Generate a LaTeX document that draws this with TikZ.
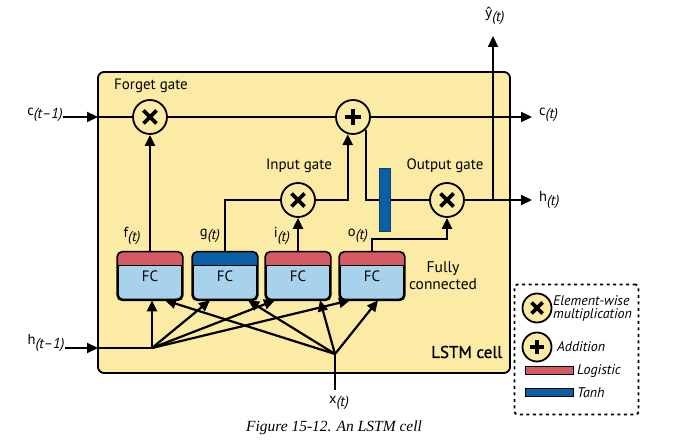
\documentclass[tikz,border=0pt]{standalone}
\usepackage{fontspec}
\setmainfont{PT Sans}
\newfontfamily\capfont{Liberation Serif}
\newfontfamily\yfont{Noto Sans}
\newfontfamily\semifont{PT Sans}[FakeBold=1]
\usetikzlibrary{arrows.meta,calc}
\definecolor{cellyellow}{HTML}{FBEBA5}
\definecolor{logred}{HTML}{D65A64}
\definecolor{tanhblue}{HTML}{0A5FA5}
\definecolor{fcblue}{HTML}{A8D2EB}
\newcommand\lowsub[1]{\raisebox{-0.45ex}{#1}}
\newcommand\drawmul[2]{\draw[line width=3.6pt] ($(#1.center)+(-#2,-#2)$) -- ($(#1.center)+(#2,#2)$) ($(#1.center)+(-#2,#2)$) -- ($(#1.center)+(#2,-#2)$);}
\newcommand\drawadd[2]{\draw[line width=3.6pt] ($(#1.center)+(-#2,0)$) -- ($(#1.center)+(#2,0)$) ($(#1.center)+(0,-#2)$) -- ($(#1.center)+(0,#2)$);}
\begin{document}
\begin{tikzpicture}[x=1pt,y=-1pt,
  lw/.style={line width=2.2pt},
  arr/.style={line width=2.2pt,-{Triangle[length=11pt,width=10pt]}},
  gate/.style={circle,draw,line width=1.8pt,fill=cellyellow,minimum size=34pt,inner sep=0pt},
  lgate/.style={gate,minimum size=29pt},
  txt/.style={font=\fontsize{15}{17}\selectfont,inner sep=0pt},
  vtxt/.style={font=\fontsize{14.5}{17}\selectfont,inner sep=0pt},
  ltxt/.style={font=\fontsize{14}{14}\selectfont\itshape,inner sep=0pt,align=left},
  fc/.style={draw,line width=1.6pt,rounded corners=5pt,fill=fcblue,minimum width=64pt,minimum height=47pt,inner sep=0pt,
    font=\fontsize{15}{17}\selectfont}
]
\useasboundingbox (0,0) rectangle (683,443);
% cell
\node[draw,line width=1.8pt,rounded corners=6pt,fill=cellyellow,minimum width=412pt,minimum height=301pt,inner sep=0pt] (cell) at (304,222.5) {};
\node[font=\semifont\fontsize{17}{19}\selectfont,inner sep=0pt,anchor=west] (lstm) at (431,352) {LSTM cell};

% gates
\node[gate] (fg) at (150,117) {};
\node[gate] (add) at (353,117) {};
\node[gate] (ig) at (298,200) {};
\node[gate] (og) at (447,200) {};
\drawmul{fg}{6.5}
\drawadd{add}{8}
\drawmul{ig}{6.5}
\drawmul{og}{6.5}
\node[txt] (fgl) at (151,86) {Forget gate};
\node[txt] (igl) at (299,166) {Input gate};
\node[txt] (ogl) at (445,166) {Output gate};

% FC boxes
\foreach \n/\xx/\col in {f/150/logred,g/225/tanhblue,i/298/logred,o/372/logred}{
  \node[fc] (\n) at (\xx,276) {\raisebox{-7pt}{FC}};
  \begin{scope}
    \clip[rounded corners=5pt] (\n.north west) rectangle (\n.south east);
    \fill[\col] (\n.north west) rectangle ($(\n.north east)+(0,14)$);
  \end{scope}
  \draw[line width=1.6pt,rounded corners=5pt] (\n.north west) rectangle (\n.south east);
  \draw[line width=1.4pt] ($(\n.north west)+(0,14)$) -- ($(\n.north east)+(0,14)$);
}
\node[vtxt] (fl) at (132,236) {f\lowsub{\textit{(t)}}};
\node[vtxt] (gl) at (210,236) {g\lowsub{\textit{(t)}}};
\node[vtxt] (il) at (282,236) {i\lowsub{\textit{(t)}}};
\node[vtxt] (ol) at (358,236) {o\lowsub{\textit{(t)}}};
\node[font=\fontsize{15.5}{17}\selectfont,inner sep=0pt,align=center] (fcl) at (443,276) {Fully\\connected};

% cell state line
\node[vtxt] (cin) at (45,115) {c\lowsub{\textit{(t–1)}}};
\coordinate (cinb) at (98,117);
\coordinate (coutp) at (532,117);
\node[vtxt,anchor=west] (cout) at (539,115) {c\lowsub{\textit{(t)}}};
\draw[arr] (cin.east |- cinb) -- (cinb);
\draw[lw] (cinb) -- (fg.west);
\draw[lw] (fg.east) -- (add.west);
\draw[arr] (add.east) -- (coutp);

% gate inputs
\draw[arr] (f.north) -- (fg.south);
\draw[lw] (g.north) |- (ig.west);
\draw[arr] (i.north) -- (ig.south);
\draw[arr] (ig.east) -| (add.253);
\draw[lw] (add.315) |- (og.west);
\draw[arr] (o.north) -- ++(0,-13) -| (og.south);
\node[fill=tanhblue,draw=tanhblue!70!black,line width=0.6pt,minimum width=11pt,minimum height=63pt,inner sep=0pt] (bar) at (385,200) {};

% outputs
\coordinate (hsplit) at (493,200);
\coordinate (houtp) at (532,200);
\node[vtxt,anchor=west] (hout) at (539,200) {h\lowsub{\textit{(t)}}};
\draw[arr] (og.east) -- (houtp);
\coordinate (ytip) at (493,36);
\node[vtxt] (yhat) at (495,16) {{\yfont\fontsize{13.5}{15}\selectfont ŷ}\lowsub{\textit{(t)}}};
\draw[arr] (hsplit) -- (ytip);

% h(t-1) and x(t)
\node[vtxt] (hin) at (46,343) {h\lowsub{\textit{(t–1)}}};
\coordinate (hinb) at (98,348);
\coordinate (hj) at (152,348);
\draw[arr] (hin.east |- hinb) -- (hinb);
\draw[lw] (hinb) -- (hj);
\node[vtxt] (xin) at (339,403) {x\lowsub{\textit{(t)}}};
\coordinate (xbot) at (335,390);
\coordinate (xj) at (335,354);
\draw[lw] (xbot) -- (xj);

\draw[arr] (hj) -- ([xshift=2pt]f.south);
\draw[arr] (hj) -- ([xshift=-15pt]g.south);
\draw[arr] (hj) -- ([xshift=-23pt]i.south);
\draw[arr] (hj) -- ([xshift=-22pt]o.south);
\draw[arr] (xj) -- ([xshift=15pt]f.south);
\draw[arr] (xj) -- ([xshift=23pt]g.south);
\draw[arr] (xj) -- ([xshift=22pt]i.south);
\draw[arr] (xj) -- ([xshift=6pt]o.south);

% legend
\node[draw,line width=1.8pt,dash pattern=on 3pt off 3.5pt,rounded corners=3pt,minimum width=124pt,minimum height=130pt,inner sep=0pt] (legend) at (576.5,349.5) {};
\node[lgate] (lmul) at (537,308) {};
\drawmul{lmul}{5.5}
\node[ltxt,anchor=west] (lmult) at (553,308) {Element-wise\\[-1pt]multiplication};
\node[lgate] (ladd) at (537,347) {};
\drawadd{ladd}{7}
\node[ltxt,anchor=west] (laddt) at (557,347) {Addition};
\node[draw,line width=1pt,fill=logred,minimum width=48pt,minimum height=8pt,inner sep=0pt] (lred) at (549,371) {};
\node[ltxt,anchor=west] (lredt) at (577,371) {Logistic};
\node[draw,line width=1pt,fill=tanhblue,minimum width=48pt,minimum height=8pt,inner sep=0pt] (lblue) at (549,393) {};
\node[ltxt,anchor=west] (lbluet) at (577,393) {Tanh};

% caption
\node[font=\capfont\itshape\fontsize{15.5}{17}\selectfont,inner sep=0pt] (cap) at (334,428) {Figure 15-12. An LSTM cell};
\end{tikzpicture}
\end{document}
